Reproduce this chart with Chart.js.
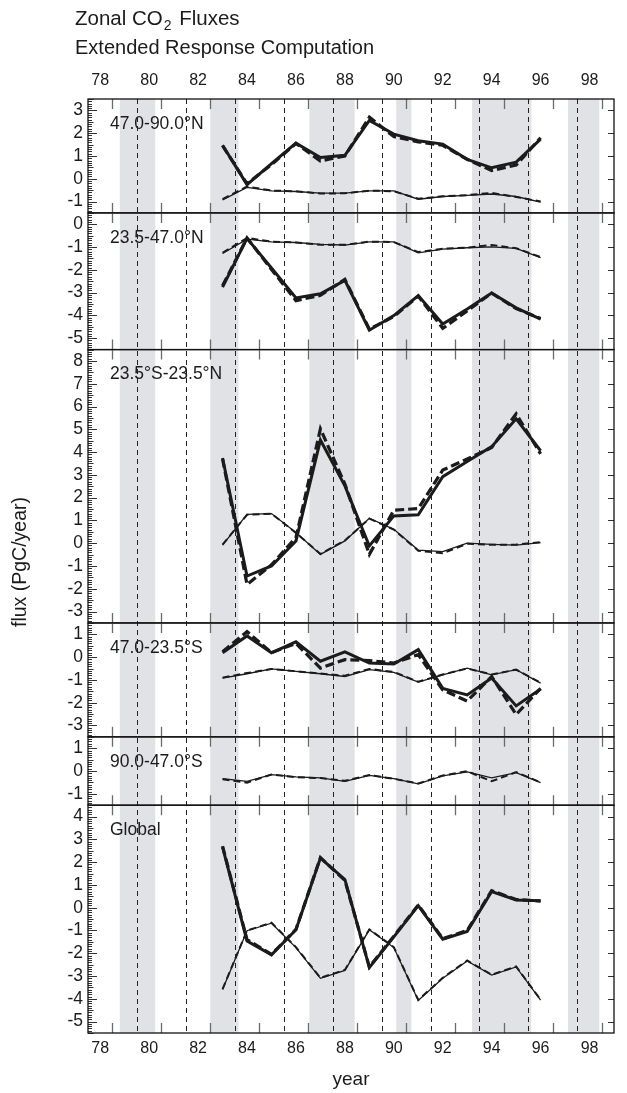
<!DOCTYPE html>
<html>
<head>
<meta charset="utf-8">
<script src="https://cdn.jsdelivr.net/npm/chart.js@4.4.1/dist/chart.umd.min.js"></script>
<style>
  html, body { margin: 0; padding: 0; background: #fff; }
  #wrap { width: 627px; height: 1093px; }
</style>
</head>
<body>
<div id="wrap"><canvas id="chart" width="627" height="1093"></canvas></div>
<script>
// ---- data: annual zonal CO2 fluxes (PgC/year), 1983-1996 ----
const years = [83, 84, 85, 86, 87, 88, 89, 90, 91, 92, 93, 94, 95, 96];

// 47.0-90.0°N
const n4790LandA  = [1.47, -0.26, 0.66, 1.56, 0.93, 1.03, 2.56, 1.96, 1.67, 1.52, 0.85, 0.48, 0.73, 1.74];
const n4790LandB  = [1.45, -0.22, 0.62, 1.55, 0.78, 1.00, 2.70, 1.85, 1.62, 1.47, 0.85, 0.36, 0.60, 1.80];
const n4790OceanA = [-0.93, -0.38, -0.53, -0.56, -0.63, -0.63, -0.53, -0.53, -0.90, -0.78, -0.73, -0.67, -0.78, -1.03];
const n4790OceanB = [-0.90, -0.34, -0.52, -0.55, -0.65, -0.64, -0.52, -0.55, -0.88, -0.77, -0.72, -0.62, -0.80, -1.00];

// 23.5-47.0°N
const n2347LandA  = [-2.76, -0.62, -1.92, -3.23, -3.05, -2.46, -4.65, -4.01, -3.13, -4.38, -3.72, -3.02, -3.67, -4.16];
const n2347LandB  = [-2.70, -0.60, -1.98, -3.35, -3.12, -2.42, -4.60, -4.05, -3.15, -4.57, -3.80, -3.02, -3.70, -4.14];
const n2347OceanA = [-1.28, -0.65, -0.77, -0.80, -0.88, -0.91, -0.77, -0.77, -1.25, -1.09, -1.03, -0.99, -1.06, -1.46];
const n2347OceanB = [-1.25, -0.60, -0.76, -0.80, -0.90, -0.90, -0.76, -0.78, -1.22, -1.07, -1.02, -0.91, -1.05, -1.44];

// 23.5°S-23.5°N
const tropLandA  = [3.74, -1.44, -1.00, 0.10, 4.53, 2.52, -0.12, 1.20, 1.25, 2.92, 3.59, 4.24, 5.46, 4.06];
const tropLandB  = [3.70, -1.81, -0.95, 0.25, 5.02, 2.60, -0.49, 1.45, 1.52, 3.21, 3.70, 4.20, 5.68, 3.92];
const tropOceanA = [-0.08, 1.27, 1.30, 0.47, -0.49, 0.10, 1.10, 0.61, -0.30, -0.37, 0.00, -0.05, -0.08, 0.03];
const tropOceanB = [-0.06, 1.25, 1.30, 0.45, -0.47, 0.12, 1.08, 0.60, -0.33, -0.44, -0.02, -0.07, -0.06, 0.05];

// 47.0-23.5°S
const s4723LandA  = [0.19, 0.93, 0.19, 0.67, -0.18, 0.23, -0.26, -0.30, 0.33, -1.37, -1.66, -0.92, -2.14, -1.40];
const s4723LandB  = [0.24, 1.12, 0.20, 0.60, -0.48, -0.11, -0.15, -0.26, 0.11, -1.44, -1.93, -0.85, -2.52, -1.37];
const s4723OceanA = [-0.92, -0.73, -0.52, -0.63, -0.73, -0.85, -0.55, -0.67, -1.10, -0.78, -0.48, -0.78, -0.55, -1.14];
const s4723OceanB = [-0.90, -0.70, -0.52, -0.62, -0.72, -0.82, -0.52, -0.65, -1.08, -0.76, -0.50, -0.76, -0.55, -1.12];

// 90.0-47.0°S
const s9047OceanA = [-0.33, -0.45, -0.16, -0.26, -0.30, -0.45, -0.19, -0.33, -0.56, -0.21, -0.04, -0.30, -0.07, -0.51];
const s9047OceanB = [-0.36, -0.51, -0.15, -0.27, -0.31, -0.43, -0.18, -0.34, -0.55, -0.20, -0.01, -0.45, -0.05, -0.50];

// Global
const globLandA  = [2.66, -1.46, -2.07, -0.97, 2.18, 1.24, -2.63, -1.28, 0.09, -1.38, -1.04, 0.71, 0.34, 0.31];
const globLandB  = [2.70, -1.40, -2.05, -0.95, 2.20, 1.20, -2.60, -1.25, 0.12, -1.36, -1.00, 0.75, 0.36, 0.29];
const globOceanA = [-3.59, -1.01, -0.68, -1.75, -3.10, -2.75, -0.97, -1.75, -4.07, -3.10, -2.34, -2.96, -2.60, -4.06];
const globOceanB = [-3.57, -1.00, -0.66, -1.73, -3.08, -2.73, -0.95, -1.73, -4.05, -3.08, -2.32, -2.94, -2.58, -4.04];

// panel titles and tick labels
const zoneLabels = ['47.0-90.0°N', '23.5-47.0°N', '23.5°S-23.5°N', '47.0-23.5°S', '90.0-47.0°S', 'Global'];
const yTickValues = [
  [3, 2, 1, 0, -1],
  [0, -1, -2, -3, -4, -5],
  [8, 7, 6, 5, 4, 3, 2, 1, 0, -1, -2, -3],
  [1, 0, -1, -2, -3],
  [1, 0, -1],
  [4, 3, 2, 1, 0, -1, -2, -3, -4, -5]
];
const xTickYears = [78, 80, 82, 84, 86, 88, 90, 92, 94, 96, 98];
const frameTickYears = [78.5, 80.5, 82.5, 84.5, 86.5, 88.5, 90.5, 92.5, 94.5, 96.5, 98.5];
const markerYears = [79.5, 81.5, 83.5, 85.5, 87.5, 89.5, 91.5, 93.5, 95.5, 97.5];
const shadedPeriods = [[78.8, 80.25], [82.5, 83.65], [86.55, 88.4], [90.1, 90.72], [93.2, 95.62], [97.12, 98.4]];

// ---- panel layout (top to bottom) ----
const yRanges = [[-1.5, 3.5], [-5.5, 0.5], [-3.5, 8.5], [-3.5, 1.5], [-1.5, 1.5], [-5.5, 4.5]];
const panelSeries = [
  [n4790LandA, n4790LandB, n4790OceanA, n4790OceanB],
  [n2347LandA, n2347LandB, n2347OceanA, n2347OceanB],
  [tropLandA, tropLandB, tropOceanA, tropOceanB],
  [s4723LandA, s4723LandB, s4723OceanA, s4723OceanB],
  [null, null, s9047OceanA, s9047OceanB],
  [globLandA, globLandB, globOceanA, globOceanB]
];
const lineStyles = [
  { borderWidth: 3.0, borderDash: [] },
  { borderWidth: 3.2, borderDash: [9, 4] },
  { borderWidth: 1.3, borderDash: [] },
  { borderWidth: 2.0, borderDash: [7, 4] }
];

const FONT = '"Liberation Sans", Arial, Helvetica, sans-serif';
const INK = '#1b1b1b';
Chart.defaults.font.family = FONT;
Chart.defaults.color = INK;

const panelIds = yRanges.map((_, i) => 'p' + i);

const datasets = [];
panelSeries.forEach((series, i) => {
  series.forEach((vals, j) => {
    if (!vals) return;
    datasets.push({
      data: years.map((yr, k) => ({ x: yr, y: vals[k] })),
      xAxisID: 'x',
      yAxisID: panelIds[i],
      borderColor: INK,
      borderWidth: lineStyles[j].borderWidth,
      borderDash: lineStyles[j].borderDash,
      pointRadius: 0,
      fill: false,
      tension: 0,
      order: j
    });
  });
});

function xScaleOpts(pos) {
  return {
    type: 'linear',
    position: pos,
    min: 77.5,
    max: 99.0,
    grid: { display: false, drawTicks: false },
    border: { display: false },
    afterBuildTicks: s => { s.ticks = xTickYears.map(v => ({ value: v })); },
    ticks: {
      autoSkip: false, maxRotation: 0, font: { size: 16 }, color: INK,
      padding: pos === 'top' ? 9 : 6,
      callback: v => String(v)
    }
  };
}

const scales = {};
scales.x = Object.assign(xScaleOpts('bottom'), {
  title: { display: true, text: 'year', font: { size: 19 }, color: INK, padding: { top: 0, bottom: 2 } },
  afterFit: s => { s.height = 60; }
});
scales.xTop = Object.assign(xScaleOpts('top'), {
  afterFit: s => { s.height = 30; }
});
panelIds.forEach((id, i) => {
  const [lo, hi] = yRanges[i];
  scales[id] = {
    type: 'linear',
    position: 'left',
    stack: 'zones',
    stackWeight: hi - lo,
    weight: 10 - i,
    min: lo,
    max: hi,
    grid: { display: false, drawTicks: false },
    border: { display: false },
    afterBuildTicks: s => { s.ticks = yTickValues[i].map(v => ({ value: v })); },
    ticks: { autoSkip: false, font: { size: 17.5 }, color: INK, padding: 5, callback: v => String(v) },
    afterFit: s => { s.width = 88; }
  };
});

// shading, dashed markers, panel frames, inward ticks and annotations
const panelDecor = {
  id: 'panelDecor',
  beforeDatasetsDraw(chart) {
    const { ctx, chartArea: a, scales: sc } = chart;
    const x = sc.x;
    ctx.save();
    ctx.fillStyle = '#e1e2e6';
    shadedPeriods.forEach(([s, e]) => {
      const x0 = x.getPixelForValue(s), x1 = x.getPixelForValue(e);
      ctx.fillRect(x0, a.top, x1 - x0, a.bottom - a.top);
    });
    ctx.strokeStyle = '#222';
    ctx.lineWidth = 1;
    ctx.setLineDash([5, 4]);
    markerYears.forEach(v => {
      const px = Math.round(x.getPixelForValue(v)) + 0.5;
      ctx.beginPath();
      ctx.moveTo(px, a.top);
      ctx.lineTo(px, a.bottom);
      ctx.stroke();
    });
    ctx.restore();
  },
  afterDatasetsDraw(chart) {
    const { ctx, chartArea: a, scales: sc } = chart;
    const x = sc.x;
    ctx.save();
    panelIds.forEach((id, i) => {
      const s = sc[id];
      const top = s.top, bottom = s.bottom;
      // year ticks on the top and bottom edge of each panel
      ctx.strokeStyle = '#6b6b6b';
      ctx.lineWidth = 1.3;
      ctx.beginPath();
      frameTickYears.forEach(v => {
        const px = Math.round(x.getPixelForValue(v)) + 0.5;
        ctx.moveTo(px, top); ctx.lineTo(px, top + 10);
        ctx.moveTo(px, bottom); ctx.lineTo(px, bottom - 10);
      });
      ctx.stroke();
      // left ruler ticks (0.1 steps) and right major ticks
      ctx.strokeStyle = '#333';
      ctx.lineWidth = 1;
      ctx.beginPath();
      for (let k = Math.ceil(s.min * 10); k <= Math.floor(s.max * 10); k++) {
        const py = Math.round(s.getPixelForValue(k / 10)) + 0.5;
        const len = (k % 10 === 0) ? 9 : (k % 5 === 0 ? 5.5 : 4);
        ctx.moveTo(a.left, py); ctx.lineTo(a.left + len, py);
      }
      yTickValues[i].forEach(v => {
        const py = Math.round(s.getPixelForValue(v)) + 0.5;
        ctx.moveTo(a.right, py); ctx.lineTo(a.right - 6, py);
      });
      ctx.stroke();
      // panel frame
      ctx.strokeStyle = '#111';
      ctx.lineWidth = 1.3;
      ctx.strokeRect(a.left, top, a.right - a.left, bottom - top);
      // zone label
      ctx.fillStyle = INK;
      ctx.font = '17.5px ' + FONT;
      ctx.textAlign = 'left';
      ctx.textBaseline = 'middle';
      ctx.fillText(zoneLabels[i], a.left + 22, top + 25);
    });
    ctx.restore();
  },
  afterDraw(chart) {
    const { ctx, chartArea: a } = chart;
    ctx.save();
    ctx.fillStyle = INK;
    ctx.textAlign = 'left';
    ctx.textBaseline = 'alphabetic';
    // two-line heading with subscript
    let tx = 75;
    ctx.font = '20.5px ' + FONT;
    ctx.fillText('Zonal CO', tx, 25);
    tx += ctx.measureText('Zonal CO').width + 1;
    ctx.font = '14px ' + FONT;
    ctx.fillText('2', tx, 30);
    tx += ctx.measureText('2').width + 2;
    ctx.font = '20.5px ' + FONT;
    ctx.fillText(' Fluxes', tx, 25);
    ctx.font = '20px ' + FONT;
    ctx.fillText('Extended Response Computation', 75, 54);
    // vertical axis title spanning all panels
    ctx.translate(21, (a.top + a.bottom) / 2 - 4);
    ctx.rotate(-Math.PI / 2);
    ctx.textAlign = 'center';
    ctx.textBaseline = 'middle';
    ctx.font = '19.5px ' + FONT;
    ctx.fillText('flux (PgC/year)', 0, 0);
    ctx.restore();
  }
};

new Chart(document.getElementById('chart'), {
  type: 'line',
  data: { datasets },
  options: {
    responsive: false,
    animation: false,
    devicePixelRatio: 1,
    layout: { padding: { top: 69, right: 13, bottom: 0, left: 0 } },
    plugins: { legend: { display: false }, tooltip: { enabled: false }, title: { display: false } },
    elements: { line: { borderJoinStyle: 'miter', borderCapStyle: 'butt' } },
    scales
  },
  plugins: [panelDecor]
});
</script>
</body>
</html>
